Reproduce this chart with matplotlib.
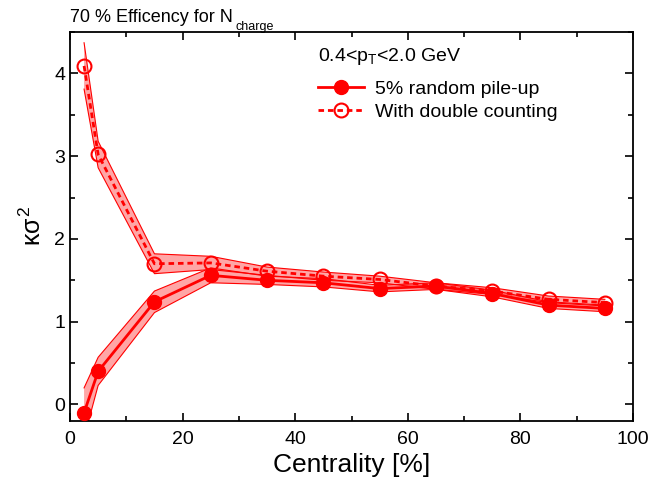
import matplotlib
matplotlib.use("Agg")
import matplotlib.pyplot as plt
import numpy as np

plt.rcParams['font.family'] = ['Liberation Sans', 'DejaVu Sans']
plt.rcParams['mathtext.fontset'] = 'custom'
plt.rcParams['mathtext.rm'] = 'Liberation Sans'
plt.rcParams['mathtext.it'] = 'Liberation Sans'

centrality = [2.5, 5, 15, 25, 35, 45, 55, 65, 75, 85, 95]
pileup = [-0.10, 0.40, 1.24, 1.56, 1.50, 1.47, 1.40, 1.43, 1.34, 1.20, 1.16]
pileup_err = [0.30, 0.17, 0.13, 0.09, 0.05, 0.05, 0.04, 0.04, 0.04, 0.04, 0.04]
double = [4.09, 3.02, 1.70, 1.71, 1.61, 1.55, 1.51, 1.43, 1.37, 1.27, 1.23]
double_err = [0.28, 0.16, 0.12, 0.08, 0.05, 0.05, 0.04, 0.04, 0.04, 0.04, 0.04]

red = '#ff0000'
fig = plt.figure(figsize=(6.67, 4.78), dpi=100)
ax = fig.add_axes([70/667, 1-421/478, (633-70)/667, (421-32)/478])

x = np.array(centrality)
for y, e in [(pileup, pileup_err), (double, double_err)]:
    y = np.array(y); e = np.array(e)
    ax.fill_between(x, y - e, y + e, facecolor=red, alpha=0.35, edgecolor='none', zorder=1)
    ax.plot(x, y - e, color=red, lw=0.8, zorder=2)
    ax.plot(x, y + e, color=red, lw=0.8, zorder=2)

ax.plot(x, pileup, '-', color=red, lw=2, marker='o', ms=10, mfc=red, mec=red,
        zorder=4, label='5% random pile-up')
ax.plot(x, double, '--', color=red, lw=2, dashes=(2, 1.4), marker='o', ms=10,
        mfc='none', mec=red, mew=1.5, zorder=3, label='With double counting')

ax.set_xlim(0, 100)
ax.set_ylim(-0.2, 4.5)
ax.set_xticks(np.arange(0, 101, 20))
ax.set_xticks(np.arange(0, 101, 10), minor=True)
ax.set_yticks(np.arange(0, 5, 1))
ax.set_yticks(np.arange(0, 4.6, 0.5), minor=True)
ax.tick_params(which='both', direction='in', top=True, right=True, labelsize=14, width=1.2)
ax.tick_params(which='major', length=6)
ax.tick_params(which='minor', length=3.5)
ax.tick_params(axis='x', pad=7)
for s in ax.spines.values():
    s.set_linewidth(1.3)

ax.set_xlabel('Centrality [%]', fontsize=19, labelpad=4)
ax.set_ylabel(r'$\kappa\sigma^2$', fontsize=18, labelpad=6)

leg = ax.legend(loc='upper left', bbox_to_anchor=(0.426, 0.895), frameon=False,
                fontsize=14, handlelength=2.4, handletextpad=0.55, labelspacing=0.25,
                borderaxespad=0)

ax.text(0.44, 0.965, r'0.4<p$_\mathregular{T}$<2.0 GeV', transform=ax.transAxes,
        fontsize=14, va='top', ha='left')
fig.text(70/667, 1-17/478, '70 % Efficency for N', fontsize=13,
         ha='left', va='center')
fig.text(236/667, 1-27/478, 'charge', fontsize=9, ha='left', va='center')

fig.savefig('out.png', dpi=100)
